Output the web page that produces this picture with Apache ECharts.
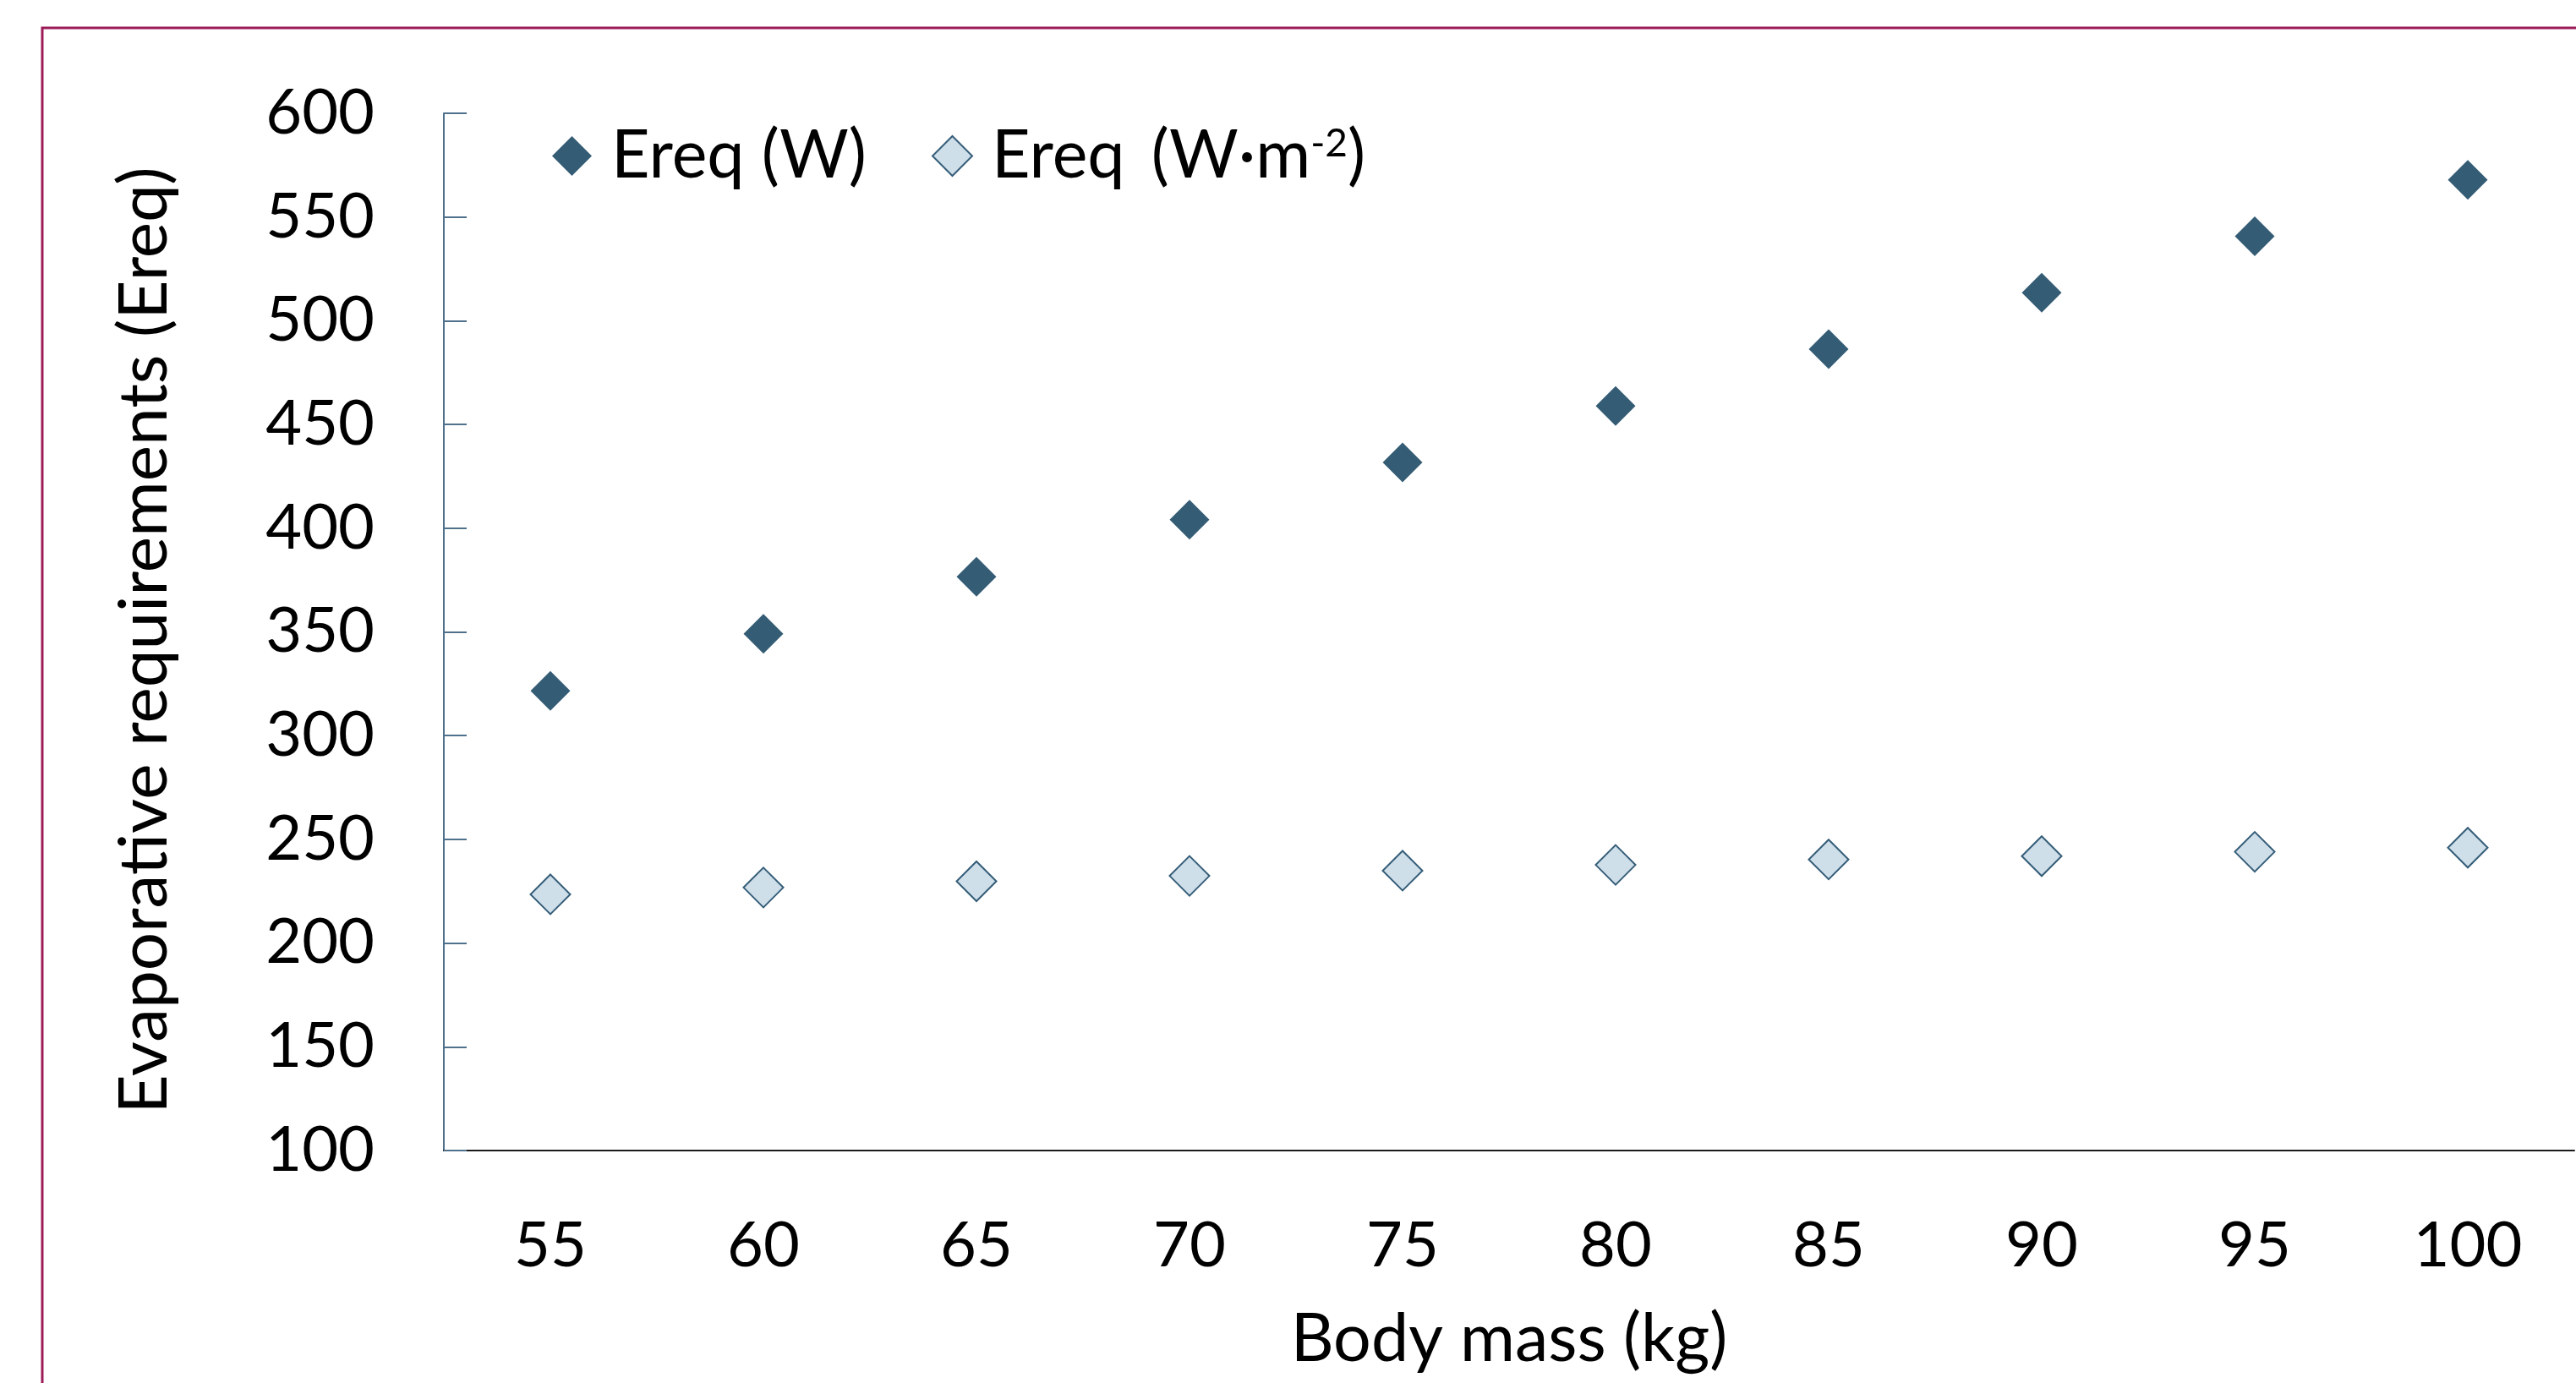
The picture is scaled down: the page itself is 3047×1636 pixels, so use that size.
<!DOCTYPE html>
<html>
<head>
<meta charset="utf-8">
<script src="https://cdn.jsdelivr.net/npm/echarts@6/dist/echarts.min.js"></script>
<style>
html,body{margin:0;padding:0;background:#fff;}
#chart{width:3047px;height:1636px;}
</style>
</head>
<body>
<div id="chart"></div>
<script>
const bodyMass = ['55','60','65','70','75','80','85','90','95','100'];
const ereqW = [321.6, 349.1, 376.6, 404.1, 431.7, 458.9, 486.3, 513.5, 540.7, 567.9];
const ereqWm2 = [223.5, 226.8, 229.8, 232.4, 234.9, 237.7, 240.3, 241.9, 244.0, 246.0];
const yMin = 100, yMax = 600, yStep = 50;
const nameW = 'Ereq (W)';
const nameWm2 = 'Ereq (W·m-2)';
const xTitle = 'Body mass (kg)';
const yTitle = 'Evaporative requirements (Ereq)';

const FONT = 'Lato';
const TS = 79;
const chart = echarts.init(document.getElementById('chart'));
const legendText = {
  fontFamily: FONT, fontSize: TS, color: '#000', lineHeight: 74,
  padding: [0, 0, 0, 18],
  rich: {
    a: {fontFamily: FONT, fontSize: TS, color: '#000', lineHeight: 74},
    b: {fontFamily: FONT, fontSize: TS, color: '#000', lineHeight: 74, padding: [0, 0, 0, 11]},
    sup: {fontFamily: FONT, fontSize: 46, color: '#000', lineHeight: 74, verticalAlign: 'top', padding: [0,0,18,0]}
  }
};
chart.setOption({
  animation: false,
  backgroundColor: '#fff',
  graphic: [{
    type: 'rect', silent: true,
    shape: {x: 50, y: 33, width: 4000, height: 4000},
    style: {fill: 'none', stroke: '#9B1C58', lineWidth: 3}
  }],
  grid: {left: 525, right: 2, top: 134, bottom: 275, containLabel: false},
  legend: [{
    data: [{name: nameW}], left: 653, top: 145, padding: 0,
    icon: 'diamond', itemWidth: 47, itemHeight: 47,
    textStyle: legendText,
    formatter: n => '{a|' + n + '}'
  }, {
    data: [{name: nameWm2}], left: 1102, top: 145, padding: 0,
    icon: 'diamond', itemWidth: 47, itemHeight: 47,
    textStyle: legendText,
    formatter: () => '{a|Ereq }{b|(W·m}{sup|-2}{a|)}'
  }],
  xAxis: {
    type: 'category', data: bodyMass, boundaryGap: true,
    axisLine: {lineStyle: {color: '#1a1a1a', width: 2}},
    axisTick: {show: false},
    axisLabel: {fontFamily: FONT, fontSize: 74, color: '#000', margin: 76},
    splitLine: {show: false},
    name: xTitle, nameLocation: 'middle', nameGap: 184,
    nameTextStyle: {fontFamily: FONT, fontSize: TS, color: '#000'}
  },
  yAxis: {
    type: 'value', min: yMin, max: yMax, interval: yStep,
    axisLine: {show: true, lineStyle: {color: '#50718C', width: 2}},
    axisTick: {show: true, inside: true, length: 27, lineStyle: {color: '#50718C', width: 2}},
    axisLabel: {fontFamily: FONT, fontSize: 74, color: '#000', margin: 82},
    splitLine: {show: false},
    name: yTitle, nameLocation: 'middle', nameGap: 314,
    nameTextStyle: {fontFamily: FONT, fontSize: 80, color: '#000', padding: [0, 20, 0, 0]}
  },
  series: [{
    name: nameW, type: 'scatter', data: ereqW,
    symbol: 'diamond', symbolSize: 47,
    itemStyle: {color: '#345C75', opacity: 1}
  }, {
    name: nameWm2, type: 'scatter', data: ereqWm2,
    symbol: 'diamond', symbolSize: 47,
    itemStyle: {color: '#CFDFEA', borderColor: '#355D78', borderWidth: 2, opacity: 1}
  }]
});
</script>
</body>
</html>
